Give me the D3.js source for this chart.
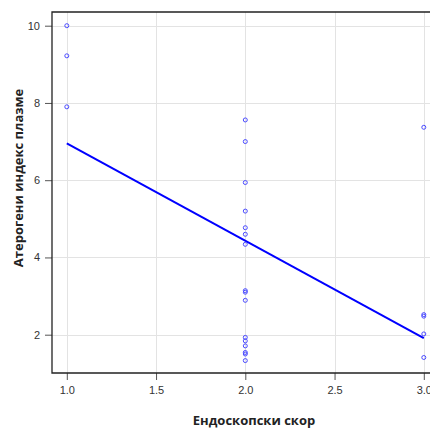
<!DOCTYPE html>
<html>
<head>
<meta charset="utf-8">
<script src="https://cdn.jsdelivr.net/npm/d3@7"></script>
<style>
  html, body { margin: 0; padding: 0; background: #fff; }
  svg { display: block; }
</style>
</head>
<body>
<svg id="chart" width="430" height="428"></svg>
<script>
// Endoscopic score (x) and atherogenic index of plasma (y) per patient
const scoreGroups = [1, 2, 3];
const valuesScore1 = [10.0, 9.22, 7.9];
const valuesScore2 = [7.56, 7.0, 5.94, 5.2, 4.77, 4.6, 4.34, 3.14, 3.1, 2.89, 1.93, 1.84, 1.71, 1.54, 1.5, 1.33];
const valuesScore3 = [7.37, 2.52, 2.48, 2.02, 1.41];
const xTicks = [1.0, 1.5, 2.0, 2.5, 3.0];
const yTicks = [2, 4, 6, 8, 10];
const xTitle = "Ендоскопски скор";
const yTitle = "Атерогени индекс плазме";

const points = [];
[valuesScore1, valuesScore2, valuesScore3].forEach((vals, i) => {
  vals.forEach(v => points.push({ x: scoreGroups[i], y: v }));
});

// Least-squares fit of y on x
const mx = d3.mean(points, d => d.x);
const my = d3.mean(points, d => d.y);
const slope = d3.sum(points, d => (d.x - mx) * (d.y - my)) / d3.sum(points, d => (d.x - mx) ** 2);
const intercept = my - slope * mx;
const fitLine = [1, 3].map(xv => ({ x: xv, y: intercept + slope * xv }));

const svg = d3.select("#chart");
const plotLeft = 52, plotTop = 12, plotRight = 430, plotBottom = 373;

const x = d3.scaleLinear().domain([1, 3]).range([66.8, 423.8]);
const y = d3.scaleLinear().domain([2, 10]).range([334.7, 25.7]);

// grid
const grid = svg.append("g").attr("stroke", "#e3e3e3").attr("stroke-width", 1);
grid.selectAll("line.v").data(xTicks).join("line").attr("class", "v")
  .attr("x1", d => Math.round(x(d)) + 0.5).attr("x2", d => Math.round(x(d)) + 0.5)
  .attr("y1", plotTop).attr("y2", plotBottom);
grid.selectAll("line.h").data(yTicks).join("line").attr("class", "h")
  .attr("y1", d => Math.round(y(d)) + 0.5).attr("y2", d => Math.round(y(d)) + 0.5)
  .attr("x1", plotLeft).attr("x2", plotRight);

// axes
const fmtX = d3.format(".1f");
const xAxis = svg.append("g")
  .attr("transform", `translate(0,${plotBottom})`)
  .call(d3.axisBottom(x).tickValues(xTicks).tickFormat(fmtX).tickSize(7).tickPadding(6).tickSizeOuter(0));
const yAxis = svg.append("g")
  .attr("transform", `translate(${plotLeft},0)`)
  .call(d3.axisLeft(y).tickValues(yTicks).tickSize(7).tickPadding(5).tickSizeOuter(0));

[xAxis, yAxis].forEach(a => {
  a.select(".domain").remove();
  a.selectAll(".tick line").attr("stroke", "#555");
  a.selectAll(".tick text")
    .attr("fill", "#333")
    .style("font-family", "'Liberation Sans', Arial, sans-serif")
    .style("font-size", "11px");
});

// frame: left, top, bottom
svg.append("path")
  .attr("d", `M${plotRight},${plotTop}H${plotLeft}V${plotBottom}H${plotRight}`)
  .attr("fill", "none").attr("stroke", "#222").attr("stroke-width", 1.3);

// regression line
svg.append("path")
  .datum(fitLine)
  .attr("d", d3.line().x(d => x(d.x)).y(d => y(d.y)))
  .attr("fill", "none").attr("stroke", "#0000ff").attr("stroke-width", 2);

// points
svg.append("g").selectAll("circle").data(points).join("circle")
  .attr("cx", d => x(d.x)).attr("cy", d => y(d.y)).attr("r", 2)
  .attr("fill", "none").attr("stroke", "#4a4aff").attr("stroke-width", 1);

// titles
svg.append("text")
  .attr("x", 254).attr("y", 425)
  .attr("text-anchor", "middle")
  .style("font-family", "'Open Sans', 'Liberation Sans', sans-serif")
  .style("font-weight", "bold").style("font-size", "13px")
  .attr("fill", "#222")
  .text(xTitle);

svg.append("text")
  .attr("transform", "translate(23,178) rotate(-90)")
  .attr("text-anchor", "middle")
  .style("font-family", "'Open Sans', 'Liberation Sans', sans-serif")
  .style("font-weight", "bold").style("font-size", "13px")
  .attr("fill", "#222")
  .text(yTitle);
</script>
</body>
</html>
